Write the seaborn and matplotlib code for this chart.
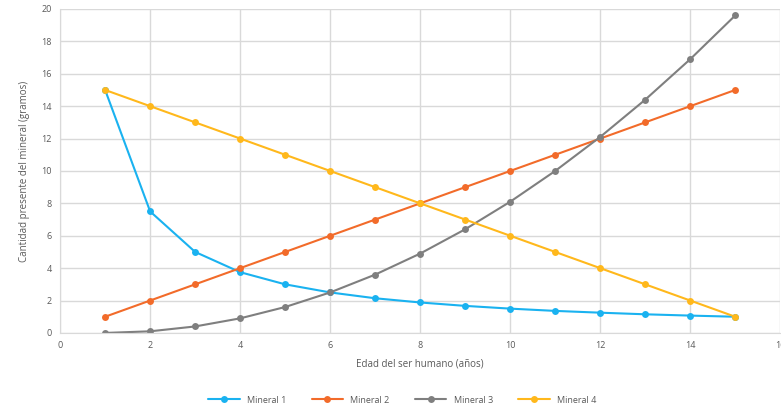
import numpy as np
import pandas as pd
import matplotlib
matplotlib.use("Agg")
import matplotlib.pyplot as plt
import seaborn as sns

edad = [1, 2, 3, 4, 5, 6, 7, 8, 9, 10, 11, 12, 13, 14, 15]
mineral_1 = [15, 7.5, 5, 3.75, 3, 2.5, 2.14, 1.88, 1.67, 1.5, 1.36, 1.25, 1.15, 1.07, 1]
mineral_2 = [1, 2, 3, 4, 5, 6, 7, 8, 9, 10, 11, 12, 13, 14, 15]
mineral_3 = [0, 0.1, 0.4, 0.9, 1.6, 2.5, 3.6, 4.9, 6.4, 8.1, 10.0, 12.1, 14.4, 16.9, 19.6]
mineral_4 = [15, 14, 13, 12, 11, 10, 9, 8, 7, 6, 5, 4, 3, 2, 1]

nombres = ["Mineral 1", "Mineral 2", "Mineral 3", "Mineral 4"]
colores = ["#1AB2F0", "#F26B2A", "#7F7F7F", "#FFB81C"]

df = pd.DataFrame({"edad": edad * 4,
                   "valor": mineral_1 + mineral_2 + mineral_3 + mineral_4,
                   "serie": sum([[n] * len(edad) for n in nombres], [])})

sns.set_style("whitegrid", {"grid.color": "#D9D9D9"})
plt.rcParams["font.family"] = ["Open Sans", "DejaVu Sans"]

fig = plt.figure(figsize=(7.81, 4.09), dpi=100)
ax = fig.add_axes([0.077, 0.186, 0.922, 0.792])
sns.lineplot(data=df, x="edad", y="valor", hue="serie", palette=colores,
             marker="o", markersize=5, markeredgewidth=0, linewidth=1.5, ax=ax)

ax.set_xlim(0, 16)
ax.set_ylim(0, 20)
ax.set_xticks(np.arange(0, 17, 2))
ax.set_yticks(np.arange(0, 21, 2))
ax.tick_params(labelsize=6.5, colors="#595959", length=0, pad=6)
ax.set_xlabel("Edad del ser humano (años)", fontsize=7, color="#595959", labelpad=6)
ax.set_ylabel("Cantidad presente del mineral (gramos)", fontsize=7, color="#595959", labelpad=8)
ax.grid(True, linewidth=1)
for s in ["top", "right"]:
    ax.spines[s].set_visible(False)
for s in ["left", "bottom"]:
    ax.spines[s].set_color("#D9D9D9")

handles, labels = ax.get_legend_handles_labels()
ax.get_legend().remove()
leg = fig.legend(handles, labels, loc="center", bbox_to_anchor=(0.515, 0.022), ncol=4,
                 frameon=False, fontsize=6.5, handlelength=3.5, columnspacing=2.8)
for t in leg.get_texts():
    t.set_color("#595959")

fig.savefig("out.png", dpi=100)
